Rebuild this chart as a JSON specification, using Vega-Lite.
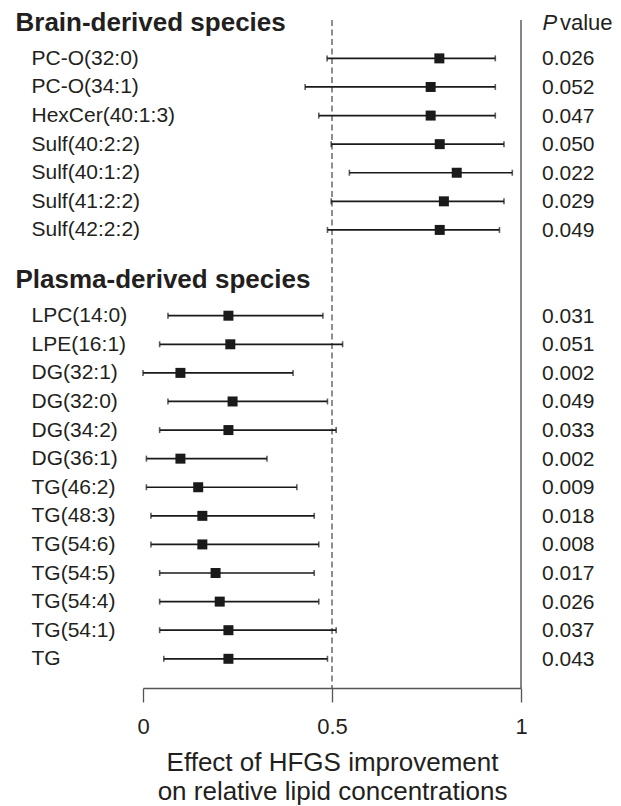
{
  "$schema": "https://vega.github.io/schema/vega-lite/v6.json",
  "width": 378,
  "height": 668,
  "autosize": {"type": "none"},
  "padding": {"left": 143, "top": 20, "right": 100, "bottom": 118},
  "background": "white",
  "config": {
    "view": {"stroke": null},
    "font": "Liberation Sans",
    "axis": {"labelFont": "Liberation Sans", "titleFont": "Liberation Sans"},
    "text": {"font": "Liberation Sans"}
  },
  "data": {
    "values": [
      {"group": "Brain", "label": "PC-O(32:0)", "est": 0.784, "lo": 0.487, "hi": 0.932, "p": 0.026},
      {"group": "Brain", "label": "PC-O(34:1)", "est": 0.761, "lo": 0.429, "hi": 0.932, "p": 0.052},
      {"group": "Brain", "label": "HexCer(40:1:3)", "est": 0.761, "lo": 0.465, "hi": 0.932, "p": 0.047},
      {"group": "Brain", "label": "Sulf(40:2:2)", "est": 0.785, "lo": 0.498, "hi": 0.955, "p": 0.050},
      {"group": "Brain", "label": "Sulf(40:1:2)", "est": 0.830, "lo": 0.546, "hi": 0.977, "p": 0.022},
      {"group": "Brain", "label": "Sulf(41:2:2)", "est": 0.796, "lo": 0.498, "hi": 0.955, "p": 0.029},
      {"group": "Brain", "label": "Sulf(42:2:2)", "est": 0.785, "lo": 0.488, "hi": 0.943, "p": 0.049},
      {"group": "Plasma", "label": "LPC(14:0)", "est": 0.226, "lo": 0.066, "hi": 0.476, "p": 0.031},
      {"group": "Plasma", "label": "LPE(16:1)", "est": 0.231, "lo": 0.044, "hi": 0.528, "p": 0.051},
      {"group": "Plasma", "label": "DG(32:1)", "est": 0.099, "lo": 0.0, "hi": 0.397, "p": 0.002},
      {"group": "Plasma", "label": "DG(32:0)", "est": 0.237, "lo": 0.066, "hi": 0.488, "p": 0.049},
      {"group": "Plasma", "label": "DG(34:2)", "est": 0.226, "lo": 0.044, "hi": 0.511, "p": 0.033},
      {"group": "Plasma", "label": "DG(36:1)", "est": 0.099, "lo": 0.009, "hi": 0.328, "p": 0.002},
      {"group": "Plasma", "label": "TG(46:2)", "est": 0.146, "lo": 0.009, "hi": 0.407, "p": 0.009},
      {"group": "Plasma", "label": "TG(48:3)", "est": 0.157, "lo": 0.021, "hi": 0.453, "p": 0.018},
      {"group": "Plasma", "label": "TG(54:6)", "est": 0.157, "lo": 0.021, "hi": 0.465, "p": 0.008},
      {"group": "Plasma", "label": "TG(54:5)", "est": 0.192, "lo": 0.044, "hi": 0.453, "p": 0.017},
      {"group": "Plasma", "label": "TG(54:4)", "est": 0.203, "lo": 0.044, "hi": 0.465, "p": 0.026},
      {"group": "Plasma", "label": "TG(54:1)", "est": 0.226, "lo": 0.044, "hi": 0.511, "p": 0.037},
      {"group": "Plasma", "label": "TG", "est": 0.226, "lo": 0.055, "hi": 0.488, "p": 0.043}
    ]
  },
  "layer": [
    {
      "data": {"values": [{}]},
      "mark": {"type": "rule", "color": "#444444", "strokeWidth": 1.2, "strokeDash": [6, 3.5]},
      "encoding": {"x": {"datum": 0.5, "type": "quantitative"}}
    },
    {
      "data": {"values": [{}]},
      "mark": {"type": "rule", "color": "#444444", "strokeWidth": 1.3},
      "encoding": {"x": {"datum": 1, "type": "quantitative"}}
    },
    {
      "mark": {"type": "rule", "color": "#1a1a1a", "strokeWidth": 1.7},
      "encoding": {
        "x": {
          "field": "lo",
          "type": "quantitative",
          "scale": {"domain": [0, 1], "nice": false, "zero": false},
          "axis": {
            "values": [0, 0.5, 1],
            "format": "~g",
            "grid": false,
            "domainColor": "#555555",
            "domainWidth": 1.3,
            "tickColor": "#555555",
            "tickWidth": 1.3,
            "tickSize": 14,
            "labelFontSize": 22,
            "labelPadding": 14.5,
            "labelColor": "#231f20",
            "labelFlush": false,
            "labelOverlap": false,
            "title": ["Effect of HFGS improvement", "on relative lipid concentrations"],
            "titleFontSize": 26,
            "titleFontWeight": "normal",
            "titleColor": "#231f20",
            "titleY": 61,
            "titleBaseline": "top",
            "titleLineHeight": 29,
            "titleAnchor": "middle"
          }
        },
        "x2": {"field": "hi"},
        "y": {
          "field": "label",
          "type": "nominal",
          "scale": {
            "type": "point",
            "domain": ["Brain-derived species", "PC-O(32:0)", "PC-O(34:1)", "HexCer(40:1:3)", "Sulf(40:2:2)", "Sulf(40:1:2)", "Sulf(41:2:2)", "Sulf(42:2:2)", " ", "Plasma-derived species", "LPC(14:0)", "LPE(16:1)", "DG(32:1)", "DG(32:0)", "DG(34:2)", "DG(36:1)", "TG(46:2)", "TG(48:3)", "TG(54:6)", "TG(54:5)", "TG(54:4)", "TG(54:1)", "TG"],
            "padding": 0.682,
            "align": 0.251
          },
          "axis": {
            "title": null,
            "domain": false,
            "ticks": false,
            "tickSize": 0,
            "grid": false,
            "labelAlign": "left",
            "labelBaseline": "middle",
            "labelLimit": 400,
            "labelColor": "#231f20",
            "labelFontSize": {"condition": {"test": "indexof(datum.value, 'species') >= 0", "value": 26}, "value": 21},
            "labelFontWeight": {"condition": {"test": "indexof(datum.value, 'species') >= 0", "value": "bold"}, "value": "normal"},
            "labelPadding": {"condition": {"test": "indexof(datum.value, 'species') >= 0", "value": 128}, "value": 112},
            "labelOffset": {"condition": {"test": "indexof(datum.value, 'species') >= 0", "value": -7.5}, "value": 0}
          }
        }
      }
    },
    {
      "mark": {"type": "tick", "color": "#1a1a1a", "size": 6, "thickness": 1.6},
      "encoding": {
        "x": {"field": "lo", "type": "quantitative"},
        "y": {"field": "label", "type": "nominal"}
      }
    },
    {
      "mark": {"type": "tick", "color": "#1a1a1a", "size": 6, "thickness": 1.6},
      "encoding": {
        "x": {"field": "hi", "type": "quantitative"},
        "y": {"field": "label", "type": "nominal"}
      }
    },
    {
      "mark": {"type": "square", "color": "#1a1a1a", "size": 100, "filled": true, "opacity": 1},
      "encoding": {
        "x": {"field": "est", "type": "quantitative"},
        "y": {"field": "label", "type": "nominal"}
      }
    },
    {
      "mark": {"type": "text", "align": "left", "baseline": "middle", "dx": 21, "dy": 1, "fontSize": 21, "color": "#231f20"},
      "encoding": {
        "x": {"datum": 1, "type": "quantitative"},
        "y": {"field": "label", "type": "nominal"},
        "text": {"field": "p", "type": "quantitative", "format": ".3f"}
      }
    },
    {
      "data": {"values": [{}]},
      "mark": {"type": "text", "text": "P", "fontStyle": "italic", "align": "left", "baseline": "middle", "dx": 21.5, "dy": -7, "fontSize": 22, "color": "#231f20"},
      "encoding": {
        "x": {"datum": 1, "type": "quantitative"},
        "y": {"datum": "Brain-derived species", "type": "nominal"}
      }
    },
    {
      "data": {"values": [{}]},
      "mark": {"type": "text", "text": "value", "align": "left", "baseline": "middle", "dx": 39, "dy": -7, "fontSize": 22, "color": "#231f20"},
      "encoding": {
        "x": {"datum": 1, "type": "quantitative"},
        "y": {"datum": "Brain-derived species", "type": "nominal"}
      }
    }
  ]
}
